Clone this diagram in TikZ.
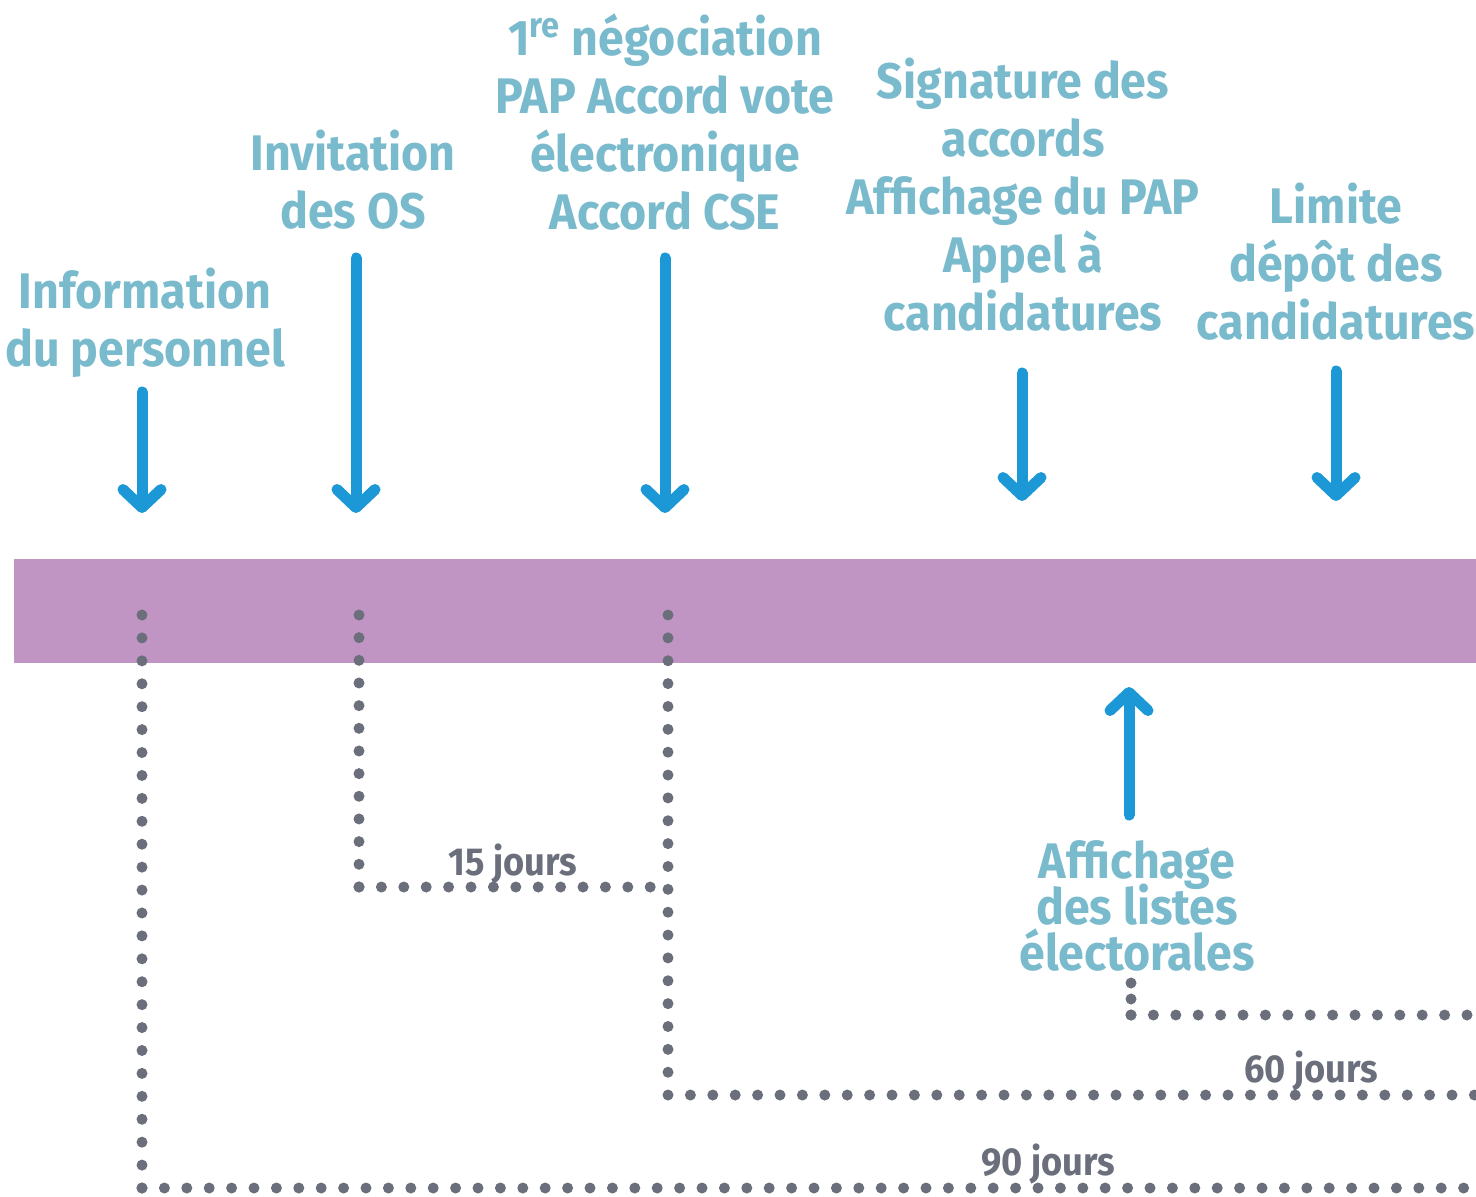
\documentclass[tikz,border=0pt]{standalone}
\usepackage{fontspec}
\newfontfamily\titlefont{Fira Sans}[FakeStretch=0.93]
\usetikzlibrary{arrows.meta,positioning}
\definecolor{evtblue}{HTML}{7ABACD}
\definecolor{arrblue}{HTML}{1B98D5}
\definecolor{bandpurple}{HTML}{C095C3}
\definecolor{dotgray}{HTML}{6B6E7B}
\tikzset{>={Straight Barb[length=9pt,width=19pt,round]}}

\begin{document}
\begin{tikzpicture}[x=0.5pt,y=-0.5pt,
	evt/.style={text=evtblue, font=\titlefont\bfseries\fontsize{25}{29}\selectfont, align=center, inner sep=0pt},
	dur/.style={text=dotgray, font=\titlefont\bfseries\fontsize{19.5}{22}\selectfont, inner sep=0pt, anchor=base},
	darr/.style={draw=arrblue, line width=5.5pt, line cap=round, ->},
	dots/.style={draw=dotgray, line width=5.5pt, line cap=round, dash pattern=on 0pt off #1},
	dots/.default=11.2pt,
	band/.style={fill=bandpurple, minimum width=731pt, minimum height=52pt, inner sep=0pt}]
		\useasboundingbox (0,0) rectangle (1476,1196);
		% timeline band
		\node[band] (band) at (745,611) {};
		% events above the band
		\node[evt] (info) at (145,323) {Information\\du personnel};
		\node[evt] (invit) at (353,180) {Invitation\\des OS};
		\node[evt] (nego) at (665,122) {1\textsuperscript{re} négociation\\PAP Accord vote\\électronique\\Accord CSE};
		\node[evt] (sign) at (1023,195) {Signature des\\accords\\Affichage du PAP\\Appel à\\candidatures};
		\node[evt] (limit) at (1336,262) {Limite\\dépôt des\\candidatures};
		\node[evt, font=\titlefont\bfseries\fontsize{25}{23}\selectfont,
			execute at begin node={\lineskiplimit=-20pt\relax}] (listes) at (1137,906) {Affichage\\des listes\\électorales};
		% arrow ends
		\coordinate (info-s) at (142,392);  \coordinate (info-e) at (142,513);
		\coordinate (invit-s) at (356,258); \coordinate (invit-e) at (356,513);
		\coordinate (nego-s) at (665,258);  \coordinate (nego-e) at (665,513);
		\coordinate (sign-s) at (1022,373); \coordinate (sign-e) at (1022,501);
		\coordinate (limit-s) at (1336,371); \coordinate (limit-e) at (1336,501);
		\coordinate (listes-s) at (1129,815); \coordinate (listes-e) at (1129,687);
		\foreach \a in {info,invit,nego,sign,limit,listes}
			\draw[darr] (\a-s) -- (\a-e);
		% dotted delays
		\coordinate (d1) at (142,615);  \coordinate (c1) at (142,1188);  \coordinate (e1) at (1476,1188);
		\coordinate (d2) at (359,615);  \coordinate (c2) at (359,887);   \coordinate (e2) at (668,887);
		\coordinate (d3) at (668,615);  \coordinate (c3) at (668,1095);  \coordinate (e3) at (1476,1095);
		\coordinate (d4) at (1131,983); \coordinate (c4) at (1131,1015); \coordinate (e4) at (1476,1015);
		\foreach \i/\sp in {1/11.46pt,2/11.33pt,3/11.43pt,4/8pt} {
			\draw[dots=\sp] (d\i) -- (c\i);
			\draw[dots] (c\i) -- (e\i);
		}
		\node[dur] (j15) at (513,875) {15 jours};
		\node[dur] (j60) at (1311,1082) {60 jours};
		\node[dur] (j90) at (1048,1175) {90 jours};
	\end{tikzpicture}
\end{document}
